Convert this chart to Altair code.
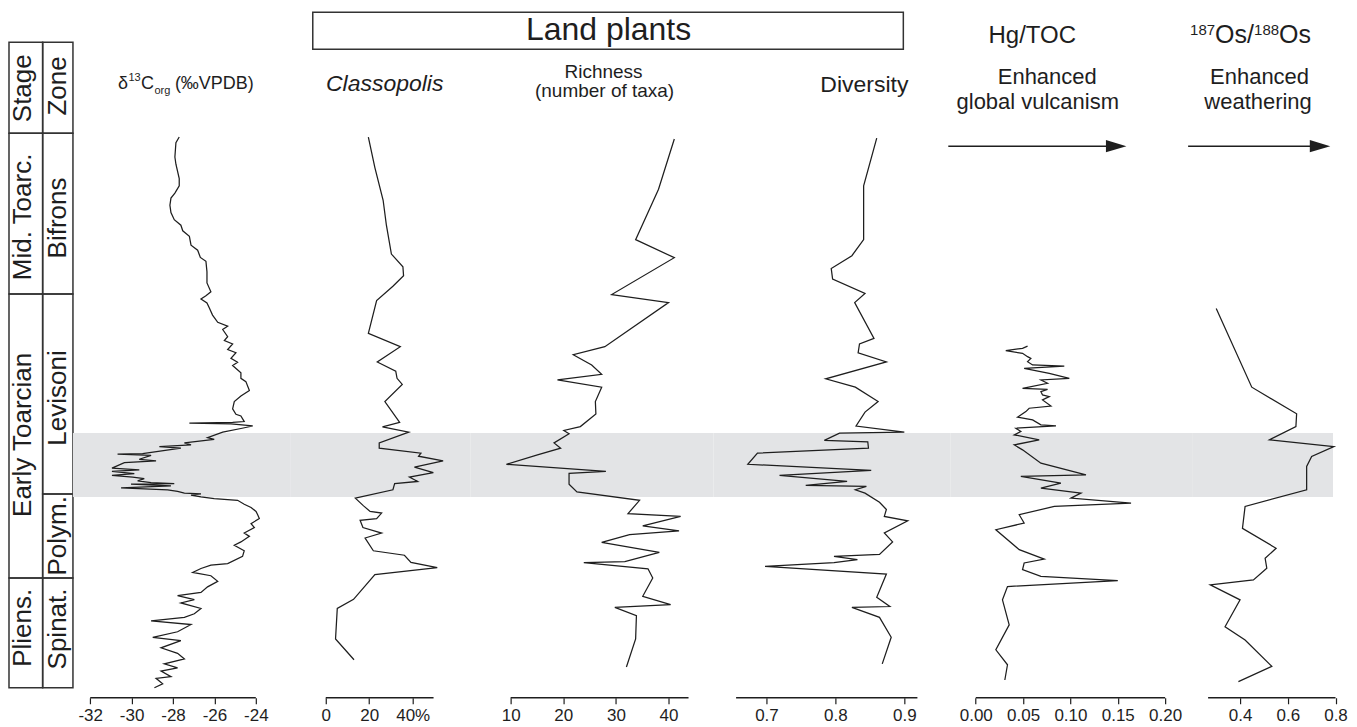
import altair as alt
import pandas as pd

# ---------------- data (stratigraphic height: 0 = base of section, 100 = top of Bifrons zone) -------------
stage_names = ["Stage", "Mid. Toarc.", "Early Toarcian", "Pliens."]
stage_lo = [100.0, 71.0, 19.8, 0.0]
stage_hi = [116.4, 100.0, 71.0, 19.8]
stage_lab_h = [108.1, 84.9, 45.6, 10.8]
zone_names = ["Zone", "Bifrons", "Levisoni", "Polym.", "Spinat."]
zone_lo = [100.0, 71.0, 34.95, 19.8, 0.0]
zone_hi = [116.4, 100.0, 71.0, 34.95, 19.8]
zone_lab_h = [108.5, 84.7, 52.25, 27.4, 10.6]
band_lo, band_hi = 34.4, 45.95

d13c_h = [99.3, 98.3, 95.7, 94.4, 91.8, 90.5, 89.2, 88.3, 87.0, 85.7, 84.4, 83.4, 82.4, 81.4, 79.8, 78.9,
          77.6, 76.9, 75.0, 73.0, 71.4, 70.7, 70.1, 69.4, 68.5, 67.2, 65.9, 65.2, 64.6, 63.3, 62.6, 62.0,
          61.0, 60.4, 59.4, 58.7, 58.1, 56.8, 55.8, 55.2, 53.6, 52.6, 51.6, 50.3, 49.3, 49.0, 48.0, 47.85,
          47.7, 47.6, 47.2, 46.75, 46.1, 45.1, 44.8, 44.15, 43.8, 43.5, 43.2, 42.2, 42.15, 41.9, 41.2, 40.9,
          40.6, 39.6, 39.3, 39.0, 38.6, 38.3, 38.0, 37.7, 37.3, 37.0, 36.8, 36.7, 36.4, 36.05, 35.7, 35.4,
          35.1, 34.95, 34.75, 34.4, 34.1, 33.8, 33.1, 32.5, 31.8, 31.2, 30.5, 29.6, 28.9, 27.9, 27.3, 26.3,
          25.7, 24.7, 23.7, 22.4, 22.1, 21.5, 20.8, 20.2, 19.2, 18.2, 17.2, 16.6, 15.9, 15.3, 14.3, 13.35,
          12.7, 12.05, 11.4, 10.1, 9.1, 8.5, 7.2, 6.2, 5.2, 4.3, 3.6, 3.0, 2.0, 1.7, 0.7, 0.0]
d13c_v = [-27.70, -27.86, -27.91, -27.86, -27.70, -27.70, -27.91, -28.10, -28.15, -28.10, -27.94, -27.62,
          -27.53, -27.21, -27.13, -26.81, -26.68, -26.41, -26.36, -26.36, -26.17, -26.41, -26.65, -26.36,
          -26.25, -26.09, -25.84, -25.36, -25.60, -25.36, -25.52, -25.12, -25.36, -24.96, -25.20, -24.88,
          -25.12, -24.72, -24.72, -24.48, -24.31, -24.72, -25.04, -25.12, -24.96, -24.72, -24.56, -25.12,
          -27.21, -25.20, -24.15, -24.72, -25.60, -26.33, -26.01, -27.45, -27.13, -28.66, -27.62, -29.47,
          -30.68, -29.06, -29.63, -28.82, -30.35, -30.95, -29.63, -30.95, -29.87, -30.95, -29.95, -29.39,
          -29.71, -29.06, -27.94, -30.03, -28.10, -30.51, -28.26, -27.78, -27.45, -26.65, -27.13, -26.65,
          -26.01, -24.88, -24.56, -24.23, -23.99, -23.91, -23.83, -24.23, -24.07, -24.56, -24.31, -24.72,
          -25.04, -24.56, -24.64, -25.36, -26.17, -26.65, -27.05, -26.17, -25.84, -26.33, -26.65, -27.78,
          -26.97, -27.62, -26.65, -26.97, -27.45, -29.06, -27.13, -27.78, -28.98, -27.62, -28.58, -27.78,
          -27.45, -28.42, -27.78, -28.58, -28.10, -28.82, -28.50, -28.90]

classo_h = [99.3, 93.8, 87.9, 83.4, 78.2, 75.9, 74.3, 72.4, 69.8, 63.9, 61.5, 58.75, 57.1, 55.8, 54.7, 51.6,
            47.85, 47.05, 46.1, 44.15, 43.2, 42.3, 41.75, 40.9, 39.8, 38.8, 38.0, 37.2, 36.8, 35.7, 34.2,
            32.8, 31.8, 31.5, 30.5, 30.2, 28.9, 27.9, 27.0, 24.7, 23.9, 22.6, 21.65, 20.4, 15.95, 14.3, 8.8, 5.05]
classo_v = [19.6, 22.6, 26.4, 27.9, 30.2, 35.5, 35.8, 30.9, 23.4, 19.6, 34.3, 23.7, 32.2, 32.8, 35.2, 27.2,
            34.0, 26.1, 38.2, 24.6, 24.6, 43.8, 42.7, 54.0, 40.8, 49.5, 38.5, 42.3, 31.7, 30.9, 13.6,
            17.4, 20.4, 25.7, 23.4, 15.8, 17.1, 25.7, 18.1, 21.9, 36.2, 39.2, 51.3, 22.6, 12.8, 5.3, 4.5, 13.0]

rich_h = [98.95, 89.9, 80.8, 77.55, 70.9, 69.45, 61.5, 60.05, 58.2, 56.5, 55.5, 54.2, 51.6, 49.35, 47.1,
          46.4, 45.8, 44.15, 43.2, 42.0, 40.3, 39.0, 38.65, 36.7, 35.3, 33.8, 31.4, 30.9, 29.2, 28.3, 27.6,
          26.2, 24.4, 22.75, 22.55, 21.45, 19.8, 16.5, 15.0, 14.5, 13.0, 8.8, 3.75]
rich_v = [41.1, 38.1, 33.75, 41.1, 29.2, 40.0, 27.9, 21.9, 25.4, 27.3, 18.9, 27.3, 26.1, 26.2, 23.25,
          20.1, 21.1, 18.25, 19.5, 15.1, 9.2, 28.1, 21.1, 21.1, 22.6, 34.5, 32.3, 42.3, 35.1, 42.0, 32.6,
          27.3, 38.25, 31.7, 23.9, 36.1, 37.0, 35.1, 40.4, 29.8, 33.9, 33.75, 32.0]

div_h = [99.1, 90.5, 80.8, 77.9, 75.6, 73.7, 71.1, 69.45, 63.0, 62.0, 60.4, 58.75, 55.7, 54.2, 51.6, 49.7,
         47.2, 46.1, 45.9, 44.6, 44.35, 43.2, 42.3, 40.3, 39.2, 38.3, 37.2, 36.5, 36.3, 35.7, 35.1, 33.45,
         32.15, 30.9, 30.1, 27.9, 26.3, 24.05, 23.7, 23.1, 22.55, 21.9, 20.5, 16.3, 14.65, 14.5, 12.7, 9.1, 4.3]
div_v = [0.860, 0.841, 0.841, 0.824, 0.794, 0.796, 0.843, 0.828, 0.856, 0.835, 0.833, 0.874, 0.786, 0.829,
         0.862, 0.843, 0.830, 0.900, 0.806, 0.784, 0.847, 0.848, 0.687, 0.673, 0.852, 0.719, 0.817, 0.757,
         0.845, 0.829, 0.843, 0.864, 0.874, 0.871, 0.905, 0.871, 0.883, 0.864, 0.798, 0.832, 0.798, 0.698,
         0.874, 0.860, 0.879, 0.824, 0.864, 0.881, 0.868]

hg_h = [61.6, 61.2, 60.8, 60.3, 59.7, 59.4, 58.8, 58.2, 58.0, 57.6, 56.7, 55.8, 55.5, 54.9, 54.0, 53.8,
        53.4, 52.8, 52.5, 51.9, 50.8, 50.4, 49.8, 48.8, 48.3, 47.4, 47.2, 46.8, 46.2, 45.6, 44.7, 43.8,
        42.9, 40.5, 38.4, 38.1, 36.9, 36.0, 35.1, 34.2, 33.3, 32.7, 31.2, 29.7, 28.5, 24.9, 23.2, 22.5,
        21.3, 20.1, 19.3, 18.25, 15.85, 11.35, 6.85, 4.15, 1.4]
hg_v = [0.0547, 0.0494, 0.0317, 0.0494, 0.0547, 0.0582, 0.0547, 0.0600, 0.0935, 0.0511, 0.0776, 0.0988,
        0.0688, 0.0758, 0.0494, 0.0758, 0.0688, 0.0705, 0.0776, 0.0705, 0.0794, 0.0564, 0.0529, 0.0441,
        0.0600, 0.0688, 0.0847, 0.0423, 0.0476, 0.0406, 0.0670, 0.0406, 0.0494, 0.0688, 0.1164, 0.0476,
        0.0899, 0.0688, 0.1111, 0.1005, 0.1640, 0.0829, 0.0459, 0.0511, 0.0212, 0.0459, 0.0723, 0.0511,
        0.0494, 0.0688, 0.1500, 0.0335, 0.0282, 0.0353, 0.0212, 0.0335, 0.0307]

os_h = [68.4, 54.2, 49.4, 47.1, 44.7, 43.5, 41.7, 39.9, 35.7, 32.7, 28.75, 25.15, 23.35, 21.55, 19.45,
        18.55, 15.85, 11.0, 8.6, 3.85, 1.1]
os_v = [0.300, 0.449, 0.637, 0.634, 0.523, 0.793, 0.700, 0.679, 0.679, 0.421, 0.410, 0.551, 0.505, 0.512,
        0.456, 0.275, 0.400, 0.337, 0.421, 0.533, 0.393]

# ---------------- layout / style ----------------
H = 690
Y_LO, Y_HI = -1.8, 122.52
INK = "#1e1e1e"
BAND = "#e3e4e6"
FONT = "Liberation Sans"
ARROW = "M-1,-0.6L1,0L-1,0.6Z"


def ys():
    return alt.Scale(domain=[Y_LO, Y_HI], nice=False, zero=False)


def txt(text, x, y, size, align="center", italic=False):
    return alt.Chart(pd.DataFrame({"t": [text]})).mark_text(
        align=align, baseline="alphabetic", fontSize=size, font=FONT, color=INK,
        fontStyle="italic" if italic else "normal"
    ).encode(x=alt.value(x), y=alt.value(y), text="t:N")


def arrow(x0, x1, y):
    line = alt.Chart(pd.DataFrame({"a": [0]})).mark_rule(color=INK, strokeWidth=1.5).encode(
        x=alt.value(x0), x2=alt.value(x1), y=alt.value(y))
    head = alt.Chart(pd.DataFrame({"a": [0]})).mark_point(
        shape=ARROW, filled=True, color=INK, opacity=1, size=420, strokeWidth=0
    ).encode(x=alt.value(x1 + 4), y=alt.value(y))
    return [line, head]


def make_axis(ticks, label_expr):
    return alt.Axis(values=ticks, labelExpr=label_expr, title=None, domain=False, grid=False,
                    ticks=True, tickSize=6, tickColor=INK, tickWidth=1.2, labelFontSize=17,
                    labelFont=FONT, labelColor=INK, labelPadding=4, labelFlush=False,
                    labelOverlap=False, orient="bottom")


def panel(width, domain, h, v, axis_lo, axis_hi, ticks, label_expr, band_x2=None, extras=()):
    xs = alt.Scale(domain=domain, nice=False, zero=False)
    ax = make_axis(ticks, label_expr)
    df = pd.DataFrame({"h": h, "v": v, "i": list(range(len(h)))})
    band = alt.Chart(pd.DataFrame({"lo": [band_lo], "hi": [band_hi]})).mark_rect(color=BAND).encode(
        x=alt.value(0), x2=alt.value(width if band_x2 is None else band_x2),
        y=alt.Y("lo:Q", scale=ys(), axis=None), y2="hi:Q")
    rule = alt.Chart(pd.DataFrame({"v": [axis_lo], "v2": [axis_hi]})).mark_rule(
        color=INK, strokeWidth=1.4).encode(
        x=alt.X("v:Q", scale=xs, axis=ax), x2="v2:Q", y=alt.value(H))
    line = alt.Chart(df).mark_line(color=INK, strokeWidth=1.25).encode(
        x=alt.X("v:Q", scale=xs, axis=ax),
        y=alt.Y("h:Q", scale=ys(), axis=None),
        order="i:Q")
    return alt.layer(band, rule, line, *extras).properties(width=width, height=H)


# ---- stratigraphic column ----
col_df = pd.DataFrame({
    "x0": [0.0] * len(stage_names) + [1.0] * len(zone_names),
    "x1": [1.0] * len(stage_names) + [1.9] * len(zone_names),
    "y0": stage_lo + zone_lo,
    "y1": stage_hi + zone_hi,
})
lab_df = pd.DataFrame({
    "name": stage_names + zone_names,
    "x": [0.43] * len(stage_names) + [1.47] * len(zone_names),
    "h": stage_lab_h + zone_lab_h,
})
cxs = alt.Scale(domain=[0, 1.9], nice=False, zero=False)
col_rect = alt.Chart(col_df).mark_rect(fillOpacity=0, stroke="#333333", strokeWidth=1.5).encode(
    x=alt.X("x0:Q", scale=cxs, axis=None), x2="x1:Q",
    y=alt.Y("y0:Q", scale=ys(), axis=None), y2="y1:Q")
col_text = alt.Chart(lab_df).mark_text(angle=270, align="center", baseline="middle",
                                        fontSize=26, font=FONT, color=INK).encode(
    x=alt.X("x:Q", scale=cxs, axis=None), y=alt.Y("h:Q", scale=ys(), axis=None), text="name:N")
p0 = alt.layer(col_rect, col_text).properties(width=64, height=H)

# ---- profile panels ----
p1 = panel(218, [-32.835, -22.31], d13c_h, d13c_v, -32, -24, [-32, -30, -28, -26, -24],
           "toString(datum.value)",
           extras=[txt("δ", 45, 81, 18, "left"), txt("13", 55.5, 73, 11, "left"),
                   txt("C", 68, 81, 18, "left"), txt("org", 81.5, 86, 11, "left"),
                   txt("(‰VPDB)", 102, 81, 18, "left")])
p2 = panel(180, [-16.09, 66.67], classo_h, classo_v, 0, 49.6, [0, 20, 40],
           "datum.value == 40 ? '40%' : toString(datum.value)",
           extras=[txt("Classopolis", 94, 83, 23, italic=True)])
land_box = alt.Chart(pd.DataFrame({"a": [0]})).mark_rect(
    fillOpacity=0, stroke="#333333", strokeWidth=1.5).encode(
    x=alt.value(-158), x2=alt.value(433), y=alt.value(4), y2=alt.value(41))
p3 = panel(243, [2.405, 48.54], rich_h, rich_v, 10, 43.8, [10, 20, 30, 40],
           "toString(datum.value)",
           extras=[land_box, txt("Land plants", 138, 32, 32),
                   txt("Richness", 133, 70, 19), txt("(number of taxa)", 134, 89, 19)])
p4 = panel(237, [0.6232, 0.9667], div_h, div_v, 0.656, 0.919, [0.7, 0.8, 0.9],
           "format(datum.value, '.1f')",
           extras=[txt("Diversity", 151, 84, 23)])
p5 = panel(242, [-0.0269, 0.2285], hg_h, hg_v, 0.0, 0.2, [0.0, 0.05, 0.10, 0.15, 0.20],
           "format(datum.value, '.2f')",
           extras=[txt("Hg/TOC", 82, 35, 24), txt("Enhanced", 97, 76, 22),
                   txt("global vulcanism", 87.5, 101, 22)] + arrow(-2, 162, 138))
p6 = panel(157, [0.199, 0.8565], os_h, os_v, 0.266, 0.8, [0.4, 0.6, 0.8],
           "format(datum.value, '.1f')", band_x2=141,
           extras=[txt("187", -2, 27, 15, "left"), txt("Os", 23, 35, 25, "left"),
                   txt("/", 55, 35, 25, "left"), txt("188", 62, 27, 15, "left"),
                   txt("Os", 87, 35, 25, "left"),
                   txt("Enhanced", 67.5, 76, 22), txt("weathering", 66, 101, 22)] + arrow(-4, 124, 138))

chart = alt.hconcat(p0, p1, p2, p3, p4, p5, p6, spacing=0, bounds="flush").properties(
    padding=0).configure_view(stroke=None)

chart.save("out.html", embed_options={"renderer": "svg", "actions": False})
